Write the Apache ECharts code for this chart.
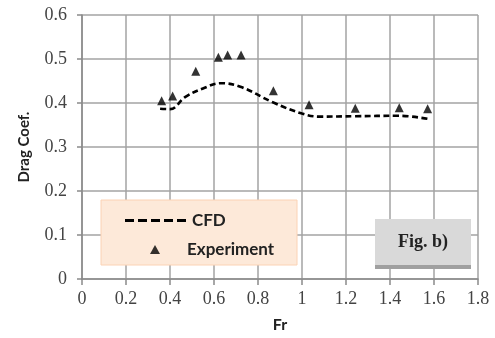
<!DOCTYPE html>
<html>
<head>
<meta charset="utf-8">
<script src="https://cdn.jsdelivr.net/npm/echarts@6/dist/echarts.min.js"></script>
<style>
  html, body { margin: 0; padding: 0; background: #fff; }
  #chart { width: 495px; height: 338px; }
</style>
</head>
<body>
<div id="chart"></div>
<script>
// CFD curve (Fr, drag coef.)
const cfdFr = [0.355, 0.40, 0.47, 0.55, 0.63, 0.72, 0.87, 1.0, 1.08, 1.24, 1.44, 1.57]
const cfdCd = [0.387, 0.386, 0.414, 0.433, 0.445, 0.437, 0.401, 0.376, 0.369, 0.370, 0.371, 0.364]
// experiment points
const expFr = [0.362, 0.412, 0.517, 0.62, 0.662, 0.723, 0.87, 1.032, 1.242, 1.442, 1.571]
const expCd = [0.405, 0.416, 0.472, 0.504, 0.509, 0.509, 0.428, 0.396, 0.388, 0.389, 0.387]
const xTicks = [0, 0.2, 0.4, 0.6, 0.8, 1, 1.2, 1.4, 1.6, 1.8]
const yTicks = [0, 0.1, 0.2, 0.3, 0.4, 0.5, 0.6]

const gridColor = '#a3a3a3'
const serif = '"Liberation Serif", "DejaVu Serif", serif'
const sans = 'Lato, "Open Sans", sans-serif'
const legendText = { fontFamily: sans, fontWeight: 'bold', fontSize: 17, color: '#222' }
// five short dashes for the CFD legend sample
const dashIcon = 'path://M0 0h9v3h-9z M13 0h9v3h-9z M26 0h9v3h-9z M39 0h9v3h-9z M52 0h9v3h-9z'

const chart = echarts.init(document.getElementById('chart'))
chart.setOption({
  animation: false,
  grid: { left: 82, right: 17, top: 15, bottom: 56 },
  xAxis: {
    type: 'value',
    min: 0,
    max: xTicks[xTicks.length - 1],
    interval: 0.2,
    name: 'Fr',
    nameLocation: 'middle',
    nameGap: 38,
    nameTextStyle: { fontFamily: sans, fontWeight: 'bold', fontSize: 16, color: '#222' },
    axisLine: { lineStyle: { color: '#8a8a8a', width: 1.5 } },
    axisTick: { show: true, length: 6, lineStyle: { color: '#8a8a8a', width: 1.5 } },
    splitLine: { show: true, lineStyle: { color: gridColor, width: 1.5 } },
    axisLabel: {
      margin: 11,
      fontFamily: serif,
      fontSize: 18,
      color: '#444',
      formatter: (v) => String(Math.round(v * 10) / 10)
    }
  },
  yAxis: {
    type: 'value',
    min: 0,
    max: yTicks[yTicks.length - 1],
    interval: 0.1,
    name: 'Drag Coef.',
    nameLocation: 'middle',
    nameGap: 50,
    nameTextStyle: { fontFamily: sans, fontWeight: 'bold', fontSize: 15, color: '#222' },
    axisLine: { show: true, lineStyle: { color: '#8a8a8a', width: 1.5 } },
    axisTick: { show: true, length: 5, lineStyle: { color: '#8a8a8a', width: 1.5 } },
    splitLine: { show: true, lineStyle: { color: gridColor, width: 1.5 } },
    axisLabel: {
      margin: 15,
      fontFamily: serif,
      fontSize: 18,
      color: '#444',
      formatter: (v) => String(Math.round(v * 10) / 10)
    }
  },
  legend: [
    {
      left: 120,
      top: 207,
      itemWidth: 61,
      itemHeight: 3,
      itemGap: 0,
      z: 5,
      textStyle: Object.assign({ padding: [0, 0, 0, 1] }, legendText),
      data: [{ name: 'CFD', icon: dashIcon }]
    },
    {
      left: 145,
      top: 236,
      itemWidth: 10,
      itemHeight: 9,
      itemGap: 0,
      z: 5,
      textStyle: Object.assign({ padding: [0, 0, 0, 22] }, legendText),
      data: [{ name: 'Experiment', icon: 'triangle' }]
    }
  ],
  graphic: [
    {
      type: 'rect',
      z: 3,
      shape: { x: 101, y: 200, width: 196, height: 65 },
      style: { fill: '#fde9d9', stroke: '#fbd2b4', lineWidth: 1 }
    },
    {
      type: 'rect',
      z: 3,
      shape: { x: 375, y: 219, width: 96, height: 46 },
      style: { fill: '#d9d9d9' }
    },
    {
      type: 'rect',
      z: 3,
      shape: { x: 375, y: 265, width: 96, height: 4 },
      style: { fill: '#a0a0a0' }
    },
    {
      type: 'text',
      z: 4,
      x: 423,
      y: 242,
      style: {
        text: 'Fig. b)',
        fontFamily: serif,
        fontWeight: 'bold',
        fontSize: 18,
        fill: '#222',
        align: 'center',
        verticalAlign: 'middle'
      }
    }
  ],
  series: [
    {
      name: 'CFD',
      type: 'line',
      smooth: 0.4,
      symbol: 'none',
      z: 6,
      lineStyle: { color: '#000', width: 2.6, type: [6, 3.5] },
      itemStyle: { color: '#000' },
      data: cfdFr.map((x, i) => [x, cfdCd[i]])
    },
    {
      name: 'Experiment',
      type: 'scatter',
      symbol: 'triangle',
      symbolSize: [9, 9],
      z: 7,
      itemStyle: { color: '#000' },
      data: expFr.map((x, i) => [x, expCd[i]])
    }
  ]
})
</script>
</body>
</html>
